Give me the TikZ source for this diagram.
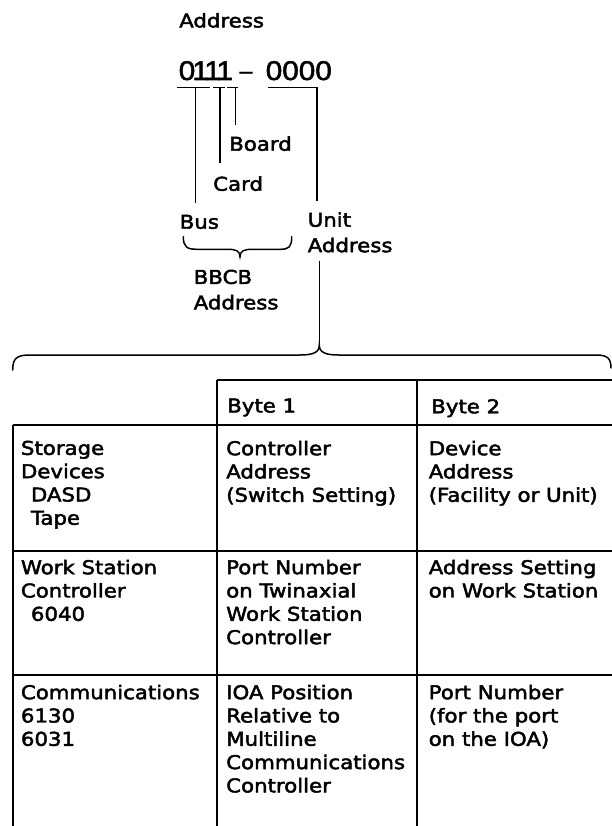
\documentclass[tikz,border=0pt]{standalone}
\usepackage{fontspec}
\setmainfont[FakeStretch=1.12,FakeBold=2.4]{DejaVu Sans}
\newfontfamily\digfont[FakeStretch=1.1,FakeBold=2]{Liberation Sans}
\begin{document}
\begin{tikzpicture}[x=1pt,y=-1pt,line width=1.5pt,
  txt/.style={anchor=north west,inner sep=0pt,align=left,
    font=\fontsize{19}{23.3}\selectfont,
    execute at begin node={\rule{0pt}{16pt}}},
  txtw/.style={txt,font=\fontsize{19}{25.5}\selectfont},
  big/.style={anchor=base west,inner sep=0pt,font=\digfont\fontsize{27}{30}\selectfont},
  tabline/.style={line width=1.7pt},
  bracel/.style={line width=1.5pt,line cap=round}]
\useasboundingbox (0,0) rectangle (612,826);

% ---- address header
\node[txt] (title) at (178.5,10.7) {Address};
\node[big] (hi) at (178,80) {0\kern-3pt1\kern-4.4pt1\kern-4.4pt1};
\node[big,anchor=base,font=\digfont\fontsize{21}{24}\selectfont] (dash) at (246,78) {–};
\node[big] (lo) at (265,80) {0000};

% ---- underline bars
\coordinate (b1a) at (177.3,87.3); \coordinate (b1b) at (210,87.3);
\coordinate (b2a) at (213.3,87.3); \coordinate (b2b) at (225,87.3);
\coordinate (b3a) at (227.3,87.3); \coordinate (b3b) at (238.3,87.3);
\coordinate (b4a) at (268.3,87.3); \coordinate (b4b) at (318.3,87.3);
\draw (b1a) -- (b1b);
\draw (b2a) -- (b2b);
\draw (b3a) -- (b3b);
\draw (b4a) -- (b4b);

% ---- labels
\node[txt] (board) at (228.5,134) {Board};
\node[txt] (card) at (212.5,174) {Card};
\node[txt] (bus) at (179,212) {Bus};
\node[txtw] (unit) at (307,211.5) {Unit\\Address};
\node[txtw] (bbcb) at (193,269) {BBCB\\Address};

% ---- stems
\coordinate (s1t) at (195.7,87.3); \coordinate (s1e) at (195.7,203);
\coordinate (s2t) at (220,87.3);   \coordinate (s2e) at (220,163);
\coordinate (s3t) at (235.5,87.3); \coordinate (s3e) at (235.5,125.5);
\coordinate (s4t) at (316.8,87.3); \coordinate (s4e) at (316.8,201.5);
\draw (s1t) -- (s1e);
\draw (s2t) -- (s2e);
\draw (s3t) -- (s3e);
\draw (s4t) -- (s4e);

% ---- small brace under Bus ... Unit
\draw[bracel] (183.3,236.7) .. controls (183.3,247) and (187,249.3) .. (197,249.3)
  -- (228,249.3) .. controls (236,249.3) and (240,251) .. (240,256.7)
  .. controls (240,251) and (244,249.3) .. (252,249.3)
  -- (280,249.3) .. controls (289,249.3) and (291.7,247) .. (291.7,236.7);

% ---- line from Unit Address to big brace
\coordinate (ua) at (319.3,260.7);
\coordinate (tip) at (319.3,345);
\draw (ua) -- (tip);

% ---- big brace
\draw[bracel] (12.7,370) .. controls (12.7,358) and (17,355) .. (30,355)
  -- (300,355) .. controls (314,355) and (319.3,352) .. (tip)
  .. controls (319.3,352) and (324.6,355) .. (338.6,355)
  -- (596,355) .. controls (607,355) and (611,358) .. (611,368);

% ---- table grid
\draw[tabline] (216.7,380) -- (612,380);
\draw[tabline] (12.7,424.7) -- (612,424.7);
\draw[tabline] (12.7,550.7) -- (612,550.7);
\draw[tabline] (12.7,675) -- (612,675);
\draw[tabline] (12.7,424.7) -- (12.7,826);
\draw[tabline] (216.7,380) -- (216.7,826);
\draw[tabline] (416.7,380) -- (416.7,826);

% ---- header
\node[txt] (byte1) at (226.5,395.7) {Byte 1};
\node[txt] (byte2) at (430.5,396.5) {Byte 2};

% ---- row 1
\node[txt] (r1a) at (20.2,440) {Storage\\Devices\\\hspace*{10pt}DASD\\\hspace*{10pt}Tape};
\node[txt] (r1b) at (225.5,440) {Controller\\Address\\(Switch Setting)};
\node[txt] (r1c) at (428,440) {Device\\Address\\(Facility or Unit)};

% ---- row 2
\node[txt] (r2a) at (20.2,559) {Work Station\\Controller\\\hspace*{10pt}6040};
\node[txt] (r2b) at (225.5,559) {Port Number\\on Twinaxial\\Work Station\\Controller};
\node[txt] (r2c) at (428,559) {Address Setting\\on Work Station};

% ---- row 3
\node[txt] (r3a) at (20.2,684) {Communications\\6130\\6031};
\node[txt] (r3b) at (225.5,684) {IOA Position\\Relative to\\Multiline\\Communications\\Controller};
\node[txt] (r3c) at (428,684) {Port Number\\(for the port\\on the IOA)};
\end{tikzpicture}
\end{document}
